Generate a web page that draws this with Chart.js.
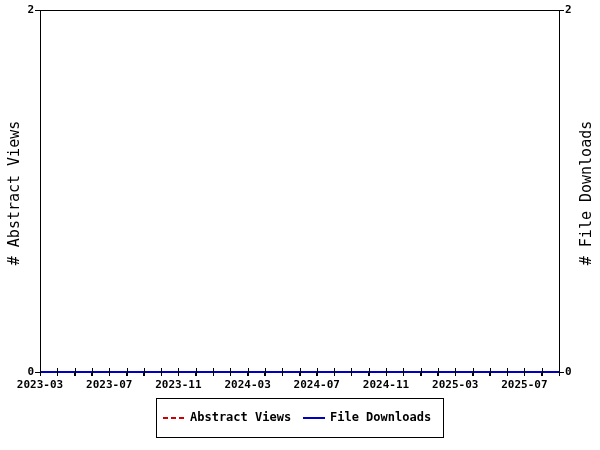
<!DOCTYPE html>
<html><head><meta charset="utf-8">
<script src="https://cdn.jsdelivr.net/npm/chart.js@4/dist/chart.umd.min.js"></script>
<style>html,body{margin:0;padding:0;background:#fff}#wrap{width:600px;height:450px;position:relative}</style>
</head><body><div id="wrap"><canvas id="c" width="600" height="450"></canvas></div>
<script>
const months = ["2023-03","2023-04","2023-05","2023-06","2023-07","2023-08","2023-09","2023-10","2023-11","2023-12",
"2024-01","2024-02","2024-03","2024-04","2024-05","2024-06","2024-07","2024-08","2024-09","2024-10","2024-11","2024-12",
"2025-01","2025-02","2025-03","2025-04","2025-05","2025-06","2025-07","2025-08","2025-09"];
const abstractViews = [0,0,0,0,0,0,0,0,0,0,0,0,0,0,0,0,0,0,0,0,0,0,0,0,0,0,0,0,0,0,0];
const fileDownloads = [0,0,0,0,0,0,0,0,0,0,0,0,0,0,0,0,0,0,0,0,0,0,0,0,0,0,0,0,0,0,0];
const yTicks = [0, 2];
const labelEvery = 4;
const leftTitle = '# Abstract Views';
const rightTitle = '# File Downloads';

const MONO = "'DejaVu Sans Mono', monospace";

const framePlugin = {
  id: 'frame',
  beforeDatasetsDraw(chart) {
    const {ctx, chartArea: a} = chart;
    ctx.save();
    ctx.strokeStyle = '#000'; ctx.lineWidth = 1;
    ctx.strokeRect(a.left + 0.5, a.top + 0.5, a.right - a.left, a.bottom - a.top);
    ctx.restore();
  },
  afterDatasetsDraw(chart) {
    const {ctx, chartArea: a} = chart;
    ctx.save();
    ctx.strokeStyle = '#000'; ctx.lineWidth = 1;
    const xs = chart.scales.x;
    ctx.beginPath();
    months.forEach((m, i) => {
      const px = Math.round(xs.getPixelForValue(i)) + 0.5;
      ctx.moveTo(px, a.bottom + 4); ctx.lineTo(px, a.bottom - 4);
    });
    ctx.stroke();
    ctx.restore();
  },
  afterDraw(chart) {
    const {ctx} = chart;
    ctx.save();
    ctx.fillStyle = '#000';
    ctx.font = "15px " + MONO;
    ctx.textAlign = 'center'; ctx.textBaseline = 'middle';
    const cyT = 193;
    ctx.save(); ctx.translate(15, cyT); ctx.rotate(-Math.PI / 2); ctx.fillText(leftTitle, 0, 0); ctx.restore();
    ctx.save(); ctx.translate(587, cyT); ctx.rotate(-Math.PI / 2); ctx.fillText(rightTitle, 0, 0); ctx.restore();
    ctx.textAlign = 'left';
    const bx = 156, by = 398, bw = 287, bh = 39;
    ctx.strokeStyle = '#000'; ctx.lineWidth = 1;
    ctx.strokeRect(bx + 0.5, by + 0.5, bw, bh);
    ctx.font = "bold 12px " + MONO;
    const cy = by + 20;
    const ds = chart.data.datasets;
    ctx.strokeStyle = ds[0].borderColor; ctx.lineWidth = 2; ctx.setLineDash([5, 3]);
    ctx.beginPath(); ctx.moveTo(163, cy); ctx.lineTo(184, cy); ctx.stroke();
    ctx.setLineDash([]);
    ctx.fillText(ds[0].label, 190, cy);
    ctx.strokeStyle = ds[1].borderColor;
    ctx.beginPath(); ctx.moveTo(303, cy); ctx.lineTo(325, cy); ctx.stroke();
    ctx.fillText(ds[1].label, 330, cy);
    ctx.restore();
  }
};

new Chart(document.getElementById('c'), {
  type: 'line',
  data: {
    labels: months,
    datasets: [
      {label: 'Abstract Views', data: abstractViews, yAxisID: 'y', order: 2, borderColor: '#cc0000', borderWidth: 2, borderDash: [5, 3], pointRadius: 0, fill: false, tension: 0, clip: false},
      {label: 'File Downloads', data: fileDownloads, yAxisID: 'y2', order: 1, borderColor: '#0000c0', borderWidth: 2, pointRadius: 0, fill: false, tension: 0, clip: false}
    ]
  },
  options: {
    responsive: false, animation: false,
    layout: {padding: {top: 10, left: 0, right: 0, bottom: 0}},
    plugins: {legend: {display: false}, tooltip: {enabled: false}},
    scales: {
      x: {
        type: 'category', offset: false,
        grid: {display: true, drawOnChartArea: false, tickLength: 4, color: '#000'},
        border: {display: true, color: '#000'},
        ticks: {autoSkip: false, maxRotation: 0, padding: 3, color: '#000', font: {family: MONO, size: 11, weight: 'bold'},
          callback: (v, i) => (i % labelEvery === 0 ? months[i] : '')},
        afterFit: s => { s.height = 78; }
      },
      y: {
        position: 'left', min: 0, max: 2,
        afterBuildTicks: s => { s.ticks = yTicks.map(v => ({value: v})); },
        grid: {drawOnChartArea: false, tickLength: 5, color: '#000'},
        border: {display: true, color: '#000'},
        ticks: {padding: 1, color: '#000', font: {family: MONO, size: 11, weight: 'bold'}},
        afterFit: s => { s.width = 40; }
      },
      y2: {
        position: 'right', min: 0, max: 2,
        afterBuildTicks: s => { s.ticks = yTicks.map(v => ({value: v})); },
        grid: {drawOnChartArea: false, tickLength: 5, color: '#000'},
        border: {display: true, color: '#000'},
        ticks: {padding: 1, color: '#000', font: {family: MONO, size: 11, weight: 'bold'}},
        afterFit: s => { s.width = 41; }
      }
    }
  },
  plugins: [framePlugin]
});
</script></body></html>
